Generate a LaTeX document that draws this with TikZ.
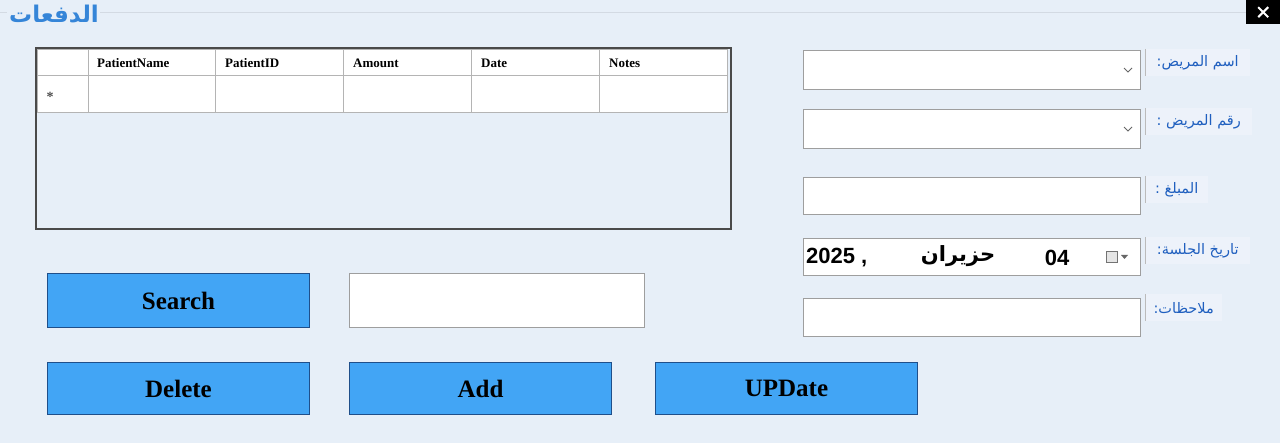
\documentclass[tikz,border=0pt]{standalone}
\usepackage{fontspec}
\setmainfont{Liberation Serif}
\newfontfamily\arabicfont[Script=Arabic]{DejaVu Sans}
\newfontfamily\latinsans{Liberation Sans}
\TeXXeTstate=1
\definecolor{bgc}{HTML}{E7EFF8}
\definecolor{btnfill}{HTML}{42A5F5}
\definecolor{btnborder}{HTML}{1F4F8A}
\definecolor{boxgray}{HTML}{9E9E9E}
\definecolor{titleblue}{HTML}{3585D8}
\definecolor{lblblue}{HTML}{1F5FBF}
\definecolor{lblfill}{HTML}{EDF2FA}
\definecolor{gridgray}{HTML}{B4B4B4}
\definecolor{framegray}{HTML}{4A4A4A}
\definecolor{linegray}{HTML}{D3DAE3}
\begin{document}
\begin{tikzpicture}[x=1pt,y=-1pt,
  tbox/.style={draw=boxgray, line width=1.3pt, fill=white, inner sep=0pt, anchor=north west},
  btn/.style={draw=btnborder, line width=1pt, fill=btnfill, inner sep=0pt, anchor=north west,
    minimum width=262, minimum height=54, font=\bfseries\fontsize{25}{28}\selectfont},
  lblbox/.style={fill=lblfill, inner sep=0pt, anchor=north west, minimum height=27,
    font=\arabicfont\fontsize{14.5}{16}\selectfont, text=lblblue},
  hdr/.style={anchor=west, inner sep=0pt, font=\bfseries\fontsize{13}{14}\selectfont},
  cell/.style={draw=gridgray, line width=0.8pt, fill=white, inner sep=0pt, anchor=north west}
]
% background
\fill[bgc] (0,0) rectangle (1280,443);
\useasboundingbox (0,0) rectangle (1280,443);

% group title and line
\draw[linegray, line width=1pt] (0,13) -- (7,13);
\draw[linegray, line width=1pt] (100,13) -- (1246,13);
\node[anchor=west, inner sep=0pt, text=titleblue, font=\arabicfont\bfseries\fontsize{23}{26}\selectfont] (title) at (9,14) {\beginR الدفعات\endR};

% close button
\node[fill=black, inner sep=0pt, minimum width=34, minimum height=24, anchor=north west] (close) at (1246,0) {};
\draw[white, line width=2pt] ([xshift=-5pt,yshift=-5pt]close.center) -- ([xshift=5pt,yshift=5pt]close.center);
\draw[white, line width=2pt] ([xshift=-5pt,yshift=5pt]close.center) -- ([xshift=5pt,yshift=-5pt]close.center);

% table
\node[draw=framegray, line width=2pt, fill=bgc, inner sep=0pt, anchor=north west, minimum width=695, minimum height=181] (grid) at (35,47) {};
\node[cell, minimum width=51, minimum height=26] (h0) at (37,49) {};
\node[cell, minimum width=127, minimum height=26] (h1) at (88,49) {};
\node[cell, minimum width=128, minimum height=26] (h2) at (215,49) {};
\node[cell, minimum width=128, minimum height=26] (h3) at (343,49) {};
\node[cell, minimum width=128, minimum height=26] (h4) at (471,49) {};
\node[cell, minimum width=128, minimum height=26] (h5) at (599,49) {};
\node[cell, minimum width=51, minimum height=37] (r0) at (37,75) {};
\node[cell, minimum width=127, minimum height=37] (r1) at (88,75) {};
\node[cell, minimum width=128, minimum height=37] (r2) at (215,75) {};
\node[cell, minimum width=128, minimum height=37] (r3) at (343,75) {};
\node[cell, minimum width=128, minimum height=37] (r4) at (471,75) {};
\node[cell, minimum width=128, minimum height=37] (r5) at (599,75) {};
\node[hdr] (t1) at (97,63) {PatientName};
\node[hdr] (t2) at (225,63) {PatientID};
\node[hdr] (t3) at (353,63) {Amount};
\node[hdr] (t4) at (481,63) {Date};
\node[hdr] (t5) at (609,63) {Notes};
\node[inner sep=0pt, font=\bfseries\fontsize{14}{14}\selectfont, text=black!70] (star) at (50,97) {*};

% right-hand form
\node[tbox, minimum width=337, minimum height=39] (cname) at (803,50) {};
\draw[black!60, line width=0.8pt] (1124,68) -- (1128,72) -- (1132,68);
\node[lblbox, minimum width=105] (lname) at (1145,49) {\beginR اسم المريض:\endR};
\draw[boxgray!70, line width=1pt] (lname.north west) -- (lname.south west);

\node[tbox, minimum width=337, minimum height=39] (cid) at (803,109) {};
\draw[black!60, line width=0.8pt] (1124,127) -- (1128,131) -- (1132,127);
\node[lblbox, minimum width=107] (lid) at (1145,108) {\beginR رقم المريض :\endR};
\draw[boxgray!70, line width=1pt] (lid.north west) -- (lid.south west);

\node[tbox, minimum width=337, minimum height=37] (amt) at (803,177) {};
\node[lblbox, minimum width=63] (lamt) at (1145,176) {\beginR المبلغ :\endR};
\draw[boxgray!70, line width=1pt] (lamt.north west) -- (lamt.south west);

\node[tbox, minimum width=337, minimum height=37] (date) at (803,238) {};
\node[anchor=west, inner sep=0pt, font=\latinsans\bfseries\fontsize{22}{24}\selectfont] (dyear) at (806,258) {2025 ,};
\node[anchor=center, inner sep=0pt, font=\arabicfont\bfseries\fontsize{21}{24}\selectfont] (dmonth) at (958,256) {\beginR حزيران\endR};
\node[anchor=center, inner sep=0pt, font=\latinsans\bfseries\fontsize{22}{24}\selectfont] (dday) at (1057,258) {04};
\node[draw=black!55, fill=black!10, line width=0.8pt, inner sep=0pt, minimum width=11, minimum height=11] (cal) at (1112,257) {};
\fill[black!60] (1121,255) -- (1128,255) -- (1124.5,259) -- cycle;
\node[lblbox, minimum width=105] (ldate) at (1145,237) {\beginR تاريخ الجلسة:\endR};
\draw[boxgray!70, line width=1pt] (ldate.north west) -- (ldate.south west);

\node[tbox, minimum width=337, minimum height=38] (notes) at (803,298) {};
\node[lblbox, minimum width=77] (lnotes) at (1145,294) {\beginR ملاحظات:\endR};
\draw[boxgray!70, line width=1pt] (lnotes.north west) -- (lnotes.south west);

% buttons
\node[btn] (search) at (47,273) {Search};
\node[tbox, minimum width=295, minimum height=54] (sbox) at (349,273) {};
\node[btn, minimum height=52] (delete) at (47,362) {Delete};
\node[btn, minimum height=52] (add) at (349,362) {Add};
\node[btn, minimum height=52] (update) at (655,362) {UPDate};
\end{tikzpicture}
\end{document}
